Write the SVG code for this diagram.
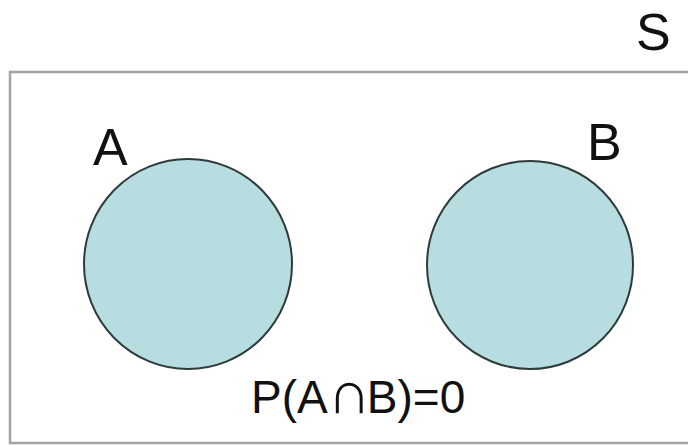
<svg xmlns="http://www.w3.org/2000/svg" width="688" height="445" viewBox="0 0 688 445">
  <style>
    .lbl { font-family: "Liberation Sans", Arial, sans-serif; fill: #111; }
    .set { fill: #b7dde1; stroke: #2f3a3b; stroke-width: 2; }
    .space { fill: #ffffff; stroke: #a3a3a3; stroke-width: 2.5; }
  </style>
  <rect width="688" height="445" fill="#ffffff"/>

  <!-- sample space S -->
  <g id="space-S">
    <rect class="space" x="10" y="72" width="700" height="371"/>
    <text class="lbl" x="636" y="50" font-size="52">S</text>
  </g>

  <!-- event A -->
  <g id="event-A">
    <ellipse class="set" cx="188" cy="264" rx="104" ry="105"/>
    <text class="lbl" x="93" y="165" font-size="52">A</text>
  </g>

  <!-- event B -->
  <g id="event-B">
    <ellipse class="set" cx="530" cy="265" rx="103" ry="104"/>
    <text class="lbl" x="587" y="160" font-size="52">B</text>
  </g>

  <g id="connectors"/>

  <!-- disjoint events note: the intersection sign is set larger, near cap height -->
  <g id="formula">
    <text class="lbl" x="251" y="413" font-size="46" fill="#222">P(A<tspan font-size="60" dx="0">∩</tspan><tspan dx="-4">B)=0</tspan></text>
  </g>
</svg>
